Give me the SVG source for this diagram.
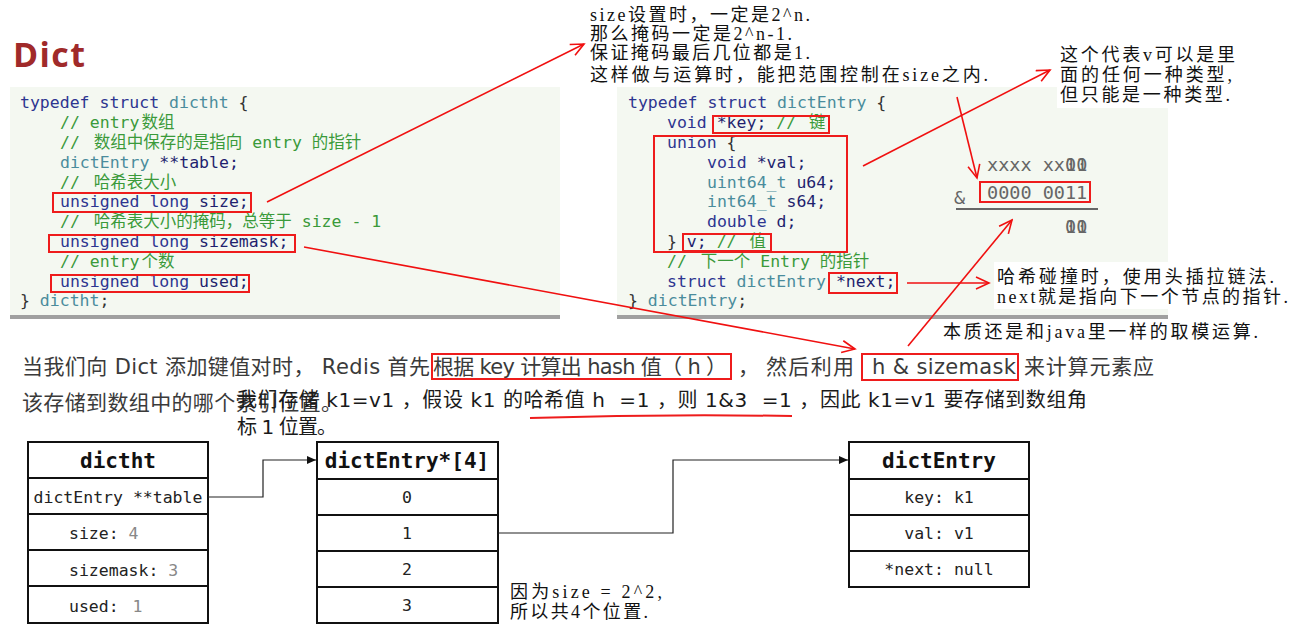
<svg xmlns="http://www.w3.org/2000/svg" width="1296" height="630" viewBox="0 0 1296 630">
<defs>
<style>
.code{font-family:"DejaVu Sans Mono","Noto Sans CJK SC",monospace;font-size:16.5px}
.kw{fill:#2d3590}.ty{fill:#4a8c9c}.cm{fill:#3a9a3a}.id{fill:#1f1f6e}.pn{fill:#333}
.rb{fill:none;stroke:#ee1c1c;stroke-width:2}
.rl{fill:none;stroke:#f01010;stroke-width:1.6;marker-end:url(#ra)}
.note{font-family:"Liberation Serif","Noto Sans CJK SC",serif;font-size:18px;fill:#111}
.para{font-family:"DejaVu Sans","Noto Sans CJK SC",sans-serif;font-size:21px;fill:#3a3a3a}
.para2{font-family:"DejaVu Sans","Noto Sans CJK SC",sans-serif;font-size:20px;fill:#1a1a1a}
.cell{fill:#fff;stroke:#111;stroke-width:2}
.tm{font-family:"DejaVu Sans Mono",monospace;font-size:16.5px;fill:#222}
.th{font-family:"DejaVu Sans Mono",monospace;font-size:21px;font-weight:bold;fill:#111}
.gr{fill:#888}
.xor{font-family:"DejaVu Sans Mono",monospace;font-size:18.5px;fill:#666}
.bl{fill:none;stroke:#222;stroke-width:1.2;marker-end:url(#ba)}
</style>
<marker id="ra" markerUnits="userSpaceOnUse" markerWidth="16" markerHeight="14" refX="14" refY="7" orient="auto">
<path d="M1,1 L14,7 L1,13" fill="none" stroke="#f01010" stroke-width="1.6"/>
</marker>
<marker id="ba" markerUnits="userSpaceOnUse" markerWidth="10" markerHeight="8" refX="9" refY="4" orient="auto">
<path d="M0,0 L9,4 L0,8 Z" fill="#111"/>
</marker>
</defs>
<rect x="0" y="0" width="1296" height="630" fill="#fff"/>

<text x="13" y="67" font-family="'Open Sans','Liberation Sans',sans-serif" font-size="34" font-weight="bold" fill="#a02a2a" textLength="72">Dict</text>

<g id="code-dictht">
<rect x="10" y="87" width="550" height="229" fill="#f4f8f1"/>
<rect x="10" y="315" width="550" height="4" fill="#a0a0a0"/>
<text class="code" xml:space="preserve" x="20" y="108"><tspan class="kw">typedef struct</tspan> <tspan class="ty">dictht</tspan> <tspan class="pn">{</tspan></text>
<text class="code cm" xml:space="preserve" x="60" y="128">// entry<tspan dx="2">数组</tspan></text>
<text class="code cm" xml:space="preserve" x="60" y="148">// <tspan dx="4">数组中保存的是指向 entry 的指针</tspan></text>
<text class="code" xml:space="preserve" x="60" y="168"><tspan class="ty">dictEntry</tspan><tspan class="id"> **table;</tspan></text>
<text class="code cm" xml:space="preserve" x="60" y="188">// <tspan dx="4">哈希表大小</tspan></text>
<text class="code" xml:space="preserve" x="60" y="207"><tspan class="kw">unsigned long</tspan><tspan class="id"> size;</tspan></text>
<text class="code cm" xml:space="preserve" x="60" y="227">// <tspan dx="4">哈希表大小的掩码，总等于 size - 1</tspan></text>
<text class="code" xml:space="preserve" x="60" y="247"><tspan class="kw">unsigned long</tspan><tspan class="id"> sizemask;</tspan></text>
<text class="code cm" xml:space="preserve" x="60" y="267">// entry<tspan dx="2">个数</tspan></text>
<text class="code" xml:space="preserve" x="60" y="287"><tspan class="kw">unsigned long</tspan><tspan class="id"> used;</tspan></text>
<text class="code" xml:space="preserve" x="20" y="306"><tspan class="pn">}</tspan><tspan class="ty"> dictht</tspan><tspan class="pn">;</tspan></text>
<rect class="rb" x="53" y="193" width="198" height="19"/>
<rect class="rb" x="49" y="235" width="246" height="17"/>
<rect class="rb" x="51" y="275" width="198" height="17"/>
</g>

<g id="code-dictEntry">
<rect x="617" y="87" width="551" height="229" fill="#f4f8f1"/>
<rect x="617" y="315" width="551" height="4" fill="#a0a0a0"/>
<text class="code" xml:space="preserve" x="628" y="108"><tspan class="kw">typedef struct</tspan><tspan class="ty"> dictEntry</tspan><tspan class="pn"> {</tspan></text>
<text class="code" xml:space="preserve" x="667" y="128"><tspan class="kw">void</tspan><tspan class="id"> *key;</tspan><tspan class="cm"> // </tspan><tspan class="cm" dx="3">键</tspan></text>
<text class="code" xml:space="preserve" x="667" y="148"><tspan class="kw">union</tspan><tspan class="pn"> {</tspan></text>
<text class="code" xml:space="preserve" x="707" y="168"><tspan class="kw">void</tspan><tspan class="id"> *val;</tspan></text>
<text class="code" xml:space="preserve" x="707" y="188"><tspan class="ty">uint64_t</tspan><tspan class="id"> u64;</tspan></text>
<text class="code" xml:space="preserve" x="707" y="207"><tspan class="ty">int64_t</tspan><tspan class="id"> s64;</tspan></text>
<text class="code" xml:space="preserve" x="707" y="227"><tspan class="kw">double</tspan><tspan class="id"> d;</tspan></text>
<text class="code" xml:space="preserve" x="667" y="247"><tspan class="pn">}</tspan><tspan class="id"> v;</tspan><tspan class="cm"> // </tspan><tspan class="cm" dx="3">值</tspan></text>
<text class="code cm" xml:space="preserve" x="667" y="267">// <tspan dx="4">下一个 Entry 的指针</tspan></text>
<text class="code" xml:space="preserve" x="667" y="287"><tspan class="kw">struct</tspan><tspan class="ty"> dictEntry</tspan><tspan class="id"> *next;</tspan></text>
<text class="code" xml:space="preserve" x="628" y="306"><tspan class="pn">}</tspan><tspan class="ty"> dictEntry</tspan><tspan class="pn">;</tspan></text>
<rect class="rb" x="713" y="116" width="116" height="17"/>
<rect class="rb" x="654" y="136" width="193" height="116"/>
<rect class="rb" x="683" y="234" width="88" height="17"/>
<rect class="rb" x="829" y="273" width="68" height="20"/>
</g>

<g id="note-size">
<text class="note" x="590" y="21" textLength="220">size设置时，一定是2^n.</text>
<text class="note" x="590" y="40" textLength="202">那么掩码一定是2^n-1.</text>
<text class="note" x="590" y="59" textLength="220">保证掩码最后几位都是1.</text>
<text class="note" x="590" y="81" textLength="398">这样做与运算时，能把范围控制在size之内.</text>
</g>

<g id="note-union">
<rect x="1057" y="42" width="183" height="66" fill="#fff"/>
<text class="note" x="1060" y="61" textLength="175">这个代表v可以是里</text>
<text class="note" x="1060" y="81" textLength="172">面的任何一种类型,</text>
<text class="note" x="1060" y="101" textLength="170">但只能是一种类型.</text>
</g>

<g id="xor">
<text class="xor" xml:space="preserve" x="987" y="171">xxxx xx</text>
<text class="xor" x="1065" y="171">00</text>
<text class="xor" x="1065" y="171">11</text>
<text class="xor" x="954" y="204">&amp;</text>
<text class="xor" xml:space="preserve" x="987" y="199">0000 0011</text>
<rect class="rb" x="980" y="182" width="110" height="20"/>
<line x1="956" y1="209" x2="1098" y2="209" stroke="#666" stroke-width="2"/>
<text class="xor" x="1065" y="233">00</text>
<text class="xor" x="1065" y="233">11</text>
</g>

<g id="note-next">
<rect x="994" y="262" width="297" height="47" fill="#fff"/>
<text class="note" x="997" y="283" textLength="277">哈希碰撞时，使用头插拉链法.</text>
<text class="note" x="997" y="303" textLength="291">next就是指向下一个节点的指针.</text>
</g>

<g id="note-mod">
<text class="note" x="943" y="338" textLength="315">本质还是和java里一样的取模运算.</text>
</g>

<g id="paragraph">
<text class="para" xml:space="preserve" x="22" y="374" textLength="408">当我们向 Dict 添加键值对时， Redis 首先</text>
<text class="para" xml:space="preserve" x="433" y="374" textLength="294">根据 key 计算出 hash 值（ h ）</text>
<text class="para" x="738" y="374">，</text>
<text class="para" x="766" y="374" textLength="88">然后利用</text>
<text class="para" xml:space="preserve" x="872" y="374" textLength="144">h &amp; sizemask</text>
<text class="para" xml:space="preserve" x="1024" y="374" textLength="130">来计算元素应</text>
<rect class="rb" x="432" y="354" width="299" height="25"/>
<rect class="rb" x="862" y="354" width="156" height="26"/>
<text class="para" xml:space="preserve" x="22" y="410" textLength="320">该存储到数组中的哪个索引位置。</text>
<text class="para2" xml:space="preserve" x="237" y="407" textLength="850">我们存储 k1=v1 ，假设 k1 的哈希值 h  =1 ，则 1&amp;3  =1 ，因此 k1=v1 要存储到数组角</text>
<text class="para2" xml:space="preserve" x="237" y="434" textLength="100">标 1 位置。</text>
<path d="M530,418 Q660,414 792,416" fill="none" stroke="#ee1c1c" stroke-width="2"/>
</g>

<g id="dictht">
<rect class="cell" x="28" y="442" width="180" height="36"/>
<rect class="cell" x="28" y="478" width="180" height="36"/>
<rect class="cell" x="28" y="514" width="180" height="36"/>
<rect class="cell" x="28" y="550" width="180" height="36"/>
<rect class="cell" x="28" y="586" width="180" height="37"/>
<text class="th" x="118" y="468" text-anchor="middle">dictht</text>
<text class="tm" x="118" y="503" text-anchor="middle">dictEntry **table</text>
<text class="tm" xml:space="preserve" x="69" y="539">size: <tspan class="gr">4</tspan></text>
<text class="tm" xml:space="preserve" x="69" y="576">sizemask: <tspan class="gr">3</tspan></text>
<text class="tm" xml:space="preserve" x="69" y="612">used: <tspan class="gr" dx="4">1</tspan></text>
</g>

<g id="dictEntry-array">
<rect class="cell" x="317" y="442" width="181" height="37"/>
<rect class="cell" x="317" y="479" width="181" height="36"/>
<rect class="cell" x="317" y="515" width="181" height="36"/>
<rect class="cell" x="317" y="551" width="181" height="36"/>
<rect class="cell" x="317" y="587" width="181" height="36"/>
<text class="th" x="407" y="468" text-anchor="middle">dictEntry*[4]</text>
<text class="tm" x="407" y="503" text-anchor="middle">0</text>
<text class="tm" x="407" y="539" text-anchor="middle">1</text>
<text class="tm" x="407" y="575" text-anchor="middle">2</text>
<text class="tm" x="407" y="611" text-anchor="middle">3</text>
</g>

<g id="note-size4">
<text class="note" x="510" y="598" textLength="152">因为size = 2^2,</text>
<text class="note" x="510" y="618" textLength="138">所以共4个位置.</text>
</g>

<g id="dictEntry">
<rect class="cell" x="849" y="442" width="180" height="37"/>
<rect class="cell" x="849" y="479" width="180" height="36"/>
<rect class="cell" x="849" y="515" width="180" height="36"/>
<rect class="cell" x="849" y="551" width="180" height="36"/>
<text class="th" x="939" y="468" text-anchor="middle">dictEntry</text>
<text class="tm" x="939" y="503" text-anchor="middle">key: k1</text>
<text class="tm" x="939" y="539" text-anchor="middle">val: v1</text>
<text class="tm" x="939" y="575" text-anchor="middle">*next: null</text>
</g>

<g id="connectors">
<path class="bl" d="M208,497 H263 V460 H316"/>
<path class="bl" d="M498,533 H673 V460 H848"/>
<line class="rl" x1="267" y1="202" x2="584" y2="44"/>
<line class="rl" x1="304" y1="247" x2="855" y2="349"/>
<line class="rl" x1="863" y1="166" x2="1050" y2="70"/>
<line class="rl" x1="957" y1="97" x2="977" y2="178"/>
<line class="rl" x1="907" y1="283" x2="989" y2="283"/>
<line class="rl" x1="908" y1="346" x2="1012" y2="220"/>
</g>
</svg>
